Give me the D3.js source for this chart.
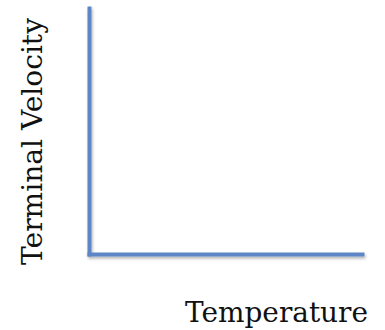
<!DOCTYPE html>
<html><head><meta charset="utf-8">
<script src="https://cdn.jsdelivr.net/npm/d3@7"></script>
<style>body{margin:0;background:#fff;}svg{display:block;}</style>
</head><body>
<script>
const xLabel = "Temperature";
const yLabel = "Terminal Velocity";
const xDomain = [0, 1];
const yDomain = [0, 1];
const xTicks = [];
const yTicks = [];

const W = 385, H = 330;
const m = {left: 89, right: 23, top: 8, bottom: 76};
const svg = d3.select("body").append("svg").attr("width", W).attr("height", H);

const x = d3.scaleLinear().domain(xDomain).range([m.left, W - m.right]);
const y = d3.scaleLinear().domain(yDomain).range([H - m.bottom, m.top]);

const defs = svg.append("defs");
const f = defs.append("filter").attr("id","sh").attr("x","-20%").attr("y","-20%").attr("width","140%").attr("height","140%");
f.append("feDropShadow").attr("dx",1).attr("dy",2).attr("stdDeviation",1.5).attr("flood-color","#000").attr("flood-opacity",0.3);

const g = svg.append("g").attr("filter","url(#sh)");
g.append("g").attr("transform", `translate(0,${y(0)})`)
  .call(d3.axisBottom(x).tickValues(xTicks).tickSize(0).tickSizeOuter(0));
g.append("g").attr("transform", `translate(${x(0)},0)`)
  .call(d3.axisLeft(y).tickValues(yTicks).tickSize(0).tickSizeOuter(0));
g.selectAll(".domain").attr("stroke", "#5b86c5").attr("stroke-width", 4).attr("stroke-linecap","square");

svg.append("text").attr("x", 368).attr("y", 322).attr("text-anchor","end")
  .attr("font-family","'DejaVu Serif', serif").attr("font-size", 28).attr("fill","#111")
  .attr("textLength", 183).attr("lengthAdjust","spacingAndGlyphs")
  .text(xLabel);
svg.append("text").attr("transform","translate(42,141.5) rotate(-90)").attr("text-anchor","middle")
  .attr("font-family","'DejaVu Serif', serif").attr("font-size", 27).attr("fill","#111")
  .attr("textLength", 247).attr("lengthAdjust","spacingAndGlyphs")
  .text(yLabel);
</script>
</body></html>
